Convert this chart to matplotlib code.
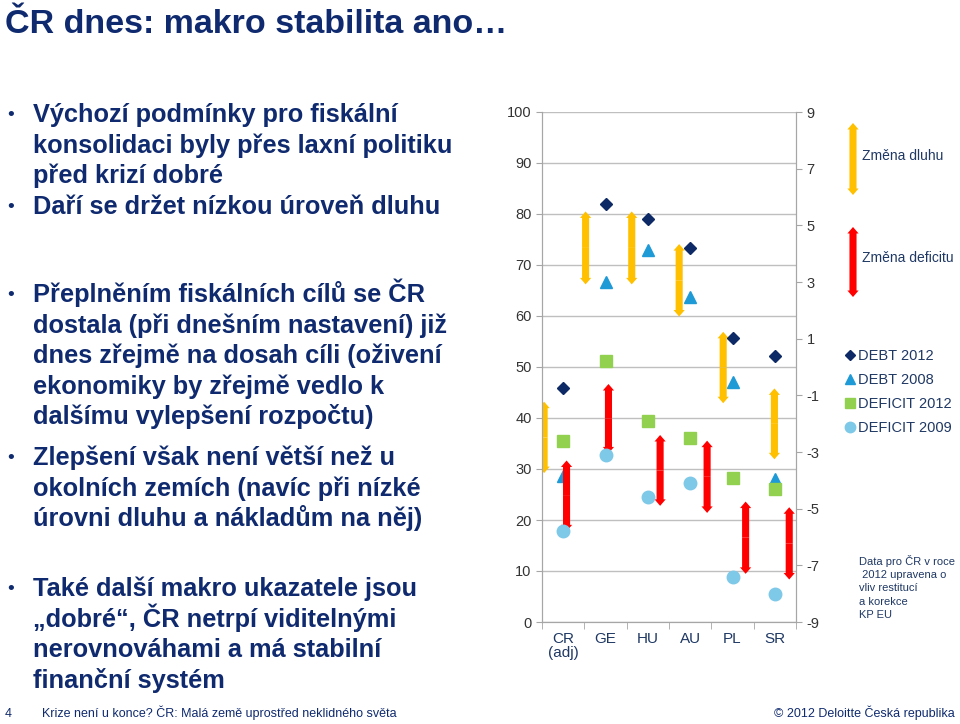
import matplotlib.pyplot as plt
import numpy as np
from matplotlib.patches import FancyArrowPatch

plt.rcParams['font.family'] = ['Liberation Sans', 'DejaVu Sans']
plt.rcParams['axes.unicode_minus'] = False

# --- Data ---
countries = ['CR\n(adj)', 'GE', 'HU', 'AU', 'PL', 'SR']
debt_2012 = [45.8, 81.9, 79.1, 73.3, 55.6, 52.2]
debt_2008 = [28.6, 66.7, 72.9, 63.8, 47.1, 28.0]
deficit_2012 = [-2.6, 0.2, -1.9, -2.5, -3.9, -4.3]
deficit_2009 = [-5.8, -3.1, -4.6, -4.1, -7.4, -8.0]
# arrows "Změna dluhu" (left axis) and "Změna deficitu" (right axis)
debt_chg_low = [29.2, 66.2, 66.2, 59.9, 42.9, 31.9]
debt_chg_high = [43.2, 80.5, 80.5, 74.1, 56.9, 45.8]
def_chg_low = [-5.8, -3.05, -4.9, -5.15, -7.3, -7.5]
def_chg_high = [-3.3, -0.6, -2.4, -2.6, -4.75, -4.95]

NAVY = '#0f2a6e'
ORANGE = '#ffc000'
RED = '#ff0000'

W, H = 960, 724
fig = plt.figure(figsize=(9.6, 7.24), dpi=100)


def fx(px):
    return px / W


def fy(py):
    return 1 - py / H


# --- Slide text ---
fig.text(fx(5), fy(33), 'ČR dnes: makro stabilita ano…', fontsize=24.5, fontweight='bold',
         color=NAVY, va='baseline')

bullets = [
    (122, ['Výchozí podmínky pro fiskální', 'konsolidaci byly přes laxní politiku',
           'před krizí dobré']),
    (214, ['Daří se držet nízkou úroveň dluhu']),
    (302, ['Přeplněním fiskálních cílů se ČR', 'dostala (při dnešním nastavení) již',
           'dnes zřejmě na dosah cíli (oživení', 'ekonomiky by zřejmě vedlo k',
           'dalšímu vylepšení rozpočtu)']),
    (465, ['Zlepšení však není větší než u', 'okolních zemích (navíc při nízké',
           'úrovni dluhu a nákladům na něj)']),
    (596, ['Také další makro ukazatele jsou', '„dobré“, ČR netrpí viditelnými',
           'nerovnováhami a má stabilní', 'finanční systém']),
]
for y0, lines in bullets:
    fig.text(fx(7), fy(y0 - 2), '•', fontsize=14, color=NAVY, va='baseline')
    for i, line in enumerate(lines):
        fig.text(fx(33), fy(y0 + i * 30.6), line, fontsize=18.3, fontweight='bold',
                 color=NAVY, va='baseline')

fig.text(fx(5), fy(717), '4', fontsize=9, color=NAVY, va='baseline')
fig.text(fx(42), fy(717), 'Krize není u konce? ČR: Malá země uprostřed neklidného světa',
         fontsize=9, color=NAVY, va='baseline')
fig.text(fx(955), fy(717), '© 2012 Deloitte Česká republika', fontsize=9, color=NAVY,
         va='baseline', ha='right')

# --- Chart ---
ax = fig.add_axes([fx(542), fy(622), fx(796) - fx(542), fy(112) - fy(622)])
ax2 = ax.twinx()
x = np.arange(len(countries))

ax.set_xlim(-0.5, len(countries) - 0.5)
ax.set_ylim(0, 100)
ax.set_yticks(np.arange(0, 101, 10))
ax2.set_ylim(-9, 9)
ax2.set_yticks(np.arange(-9, 10, 2))
ax.grid(axis='y', color='#bfbfbf', lw=1)
ax.set_axisbelow(True)

for a in (ax, ax2):
    a.spines['top'].set_visible(False)
    for s in ('left', 'right', 'bottom'):
        a.spines[s].set_color('#a6a6a6')
ax.tick_params(axis='y', colors='#a6a6a6', labelcolor='#333333', labelsize=10.5, length=4)
ax2.tick_params(axis='y', colors='#a6a6a6', labelcolor='#333333', labelsize=10.5, length=4)
ax.set_xticks(x)
ax.set_xticklabels(countries, fontsize=11, color='#1f3864', linespacing=1.05)
ax.set_xticks(np.arange(-0.5, len(countries)), minor=True)
ax.tick_params(axis='x', which='major', length=0, pad=7)
ax.tick_params(axis='x', which='minor', length=5, color='#a6a6a6')

h1, = ax.plot(x, debt_2012, 'D', color='#0d2a66', ms=6, ls='none', label='DEBT 2012')
h2, = ax.plot(x, debt_2008, '^', color='#1e9ad6', ms=8.5, ls='none', label='DEBT 2008')
h3, = ax2.plot(x, deficit_2012, 's', color='#92d050', ms=8, ls='none', label='DEFICIT 2012')
h4, = ax2.plot(x, deficit_2009, 'o', color='#7ec8e8', ms=9, ls='none', label='DEFICIT 2009')

ARROW = 'simple,head_length=0.55,head_width=0.95,tail_width=0.6'


def double_arrow(axis, xpos, lo, hi, color, transform=None):
    mid = (lo + hi) / 2
    for end in (lo, hi):
        p = FancyArrowPatch((xpos, mid), (xpos, end), arrowstyle=ARROW, mutation_scale=8.5,
                            color=color, lw=0, shrinkA=0, shrinkB=0,
                            transform=transform if transform is not None else axis.transData)
        if transform is None:
            axis.add_patch(p)
        else:
            fig.add_artist(p)


debt_off = [-0.45, -0.47, -0.38, -0.26, -0.22, -0.01]
def_off = [0.08, 0.07, 0.29, 0.40, 0.31, 0.34]
for i in range(len(countries)):
    double_arrow(ax, x[i] + debt_off[i], debt_chg_low[i], debt_chg_high[i], ORANGE)
    double_arrow(ax2, x[i] + def_off[i], def_chg_low[i], def_chg_high[i], RED)

# --- Side legend ---
double_arrow(None, fx(853), fy(195), fy(123), ORANGE, transform=fig.transFigure)
double_arrow(None, fx(853), fy(297), fy(227), RED, transform=fig.transFigure)
fig.text(fx(862), fy(156), 'Změna dluhu', fontsize=10, color='#1f3864', va='center')
fig.text(fx(862), fy(258), 'Změna deficitu', fontsize=10, color='#1f3864', va='center')

leg = fig.legend(handles=[h1, h2, h3, h4], loc='upper left',
                 bbox_to_anchor=(fx(838), fy(342)), frameon=False, fontsize=10.5,
                 handlelength=0.7, handletextpad=0.15, labelspacing=0.68, borderpad=0,
                 labelcolor='#1f3864')
leg.legend_handles[0].set_markersize(5)
leg.legend_handles[1].set_markersize(7)
leg.legend_handles[2].set_markersize(7)
leg.legend_handles[3].set_markersize(7.5)

fig.text(fx(859), fy(555), 'Data pro ČR v roce\n 2012 upravena o\nvliv restitucí\na korekce\nKP EU',
         fontsize=8, color='#1f3864', va='top', linespacing=1.4)

fig.savefig('out.png', dpi=100)
